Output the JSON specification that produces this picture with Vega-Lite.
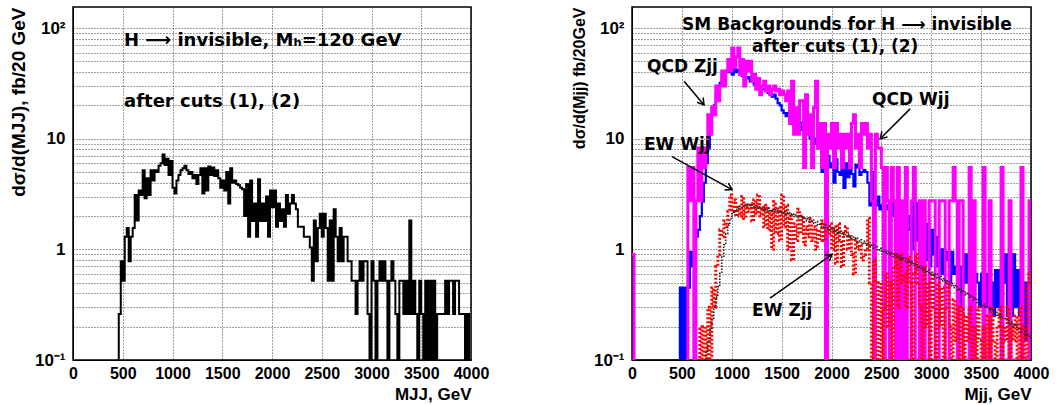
{
"$schema": "https://vega.github.io/schema/vega-lite/v6.json",
"padding": {"left": 8, "top": 6, "right": 5, "bottom": 2},
"background": "white",
"spacing": 161,
"bounds": "flush",
"config": {
  "font": "Liberation Sans",
  "view": {"stroke": "black", "strokeWidth": 1.5},
  "axis": {"labelFont": "Liberation Sans", "labelFontWeight": "bold", "labelColor": "black", "titleFont": "Liberation Sans", "titleFontWeight": "bold", "titleColor": "black", "domainColor": "black", "gridColor": "#000000", "gridDash": [1, 2], "gridOpacity": 0.75, "gridWidth": 1, "ticks": false, "labelOverlap": false}
},
"datasets": {
"h": [
{"m":0,"qcdZ":0.1,"qcdW":0.9},{"m":20,"qcdZ":0.1,"qcdW":0.1},{"m":40,"qcdZ":0.1},{"m":60,"qcdZ":0.1},{"m":80,"qcdZ":0.1},{"m":100,"qcdZ":0.1},{"m":120,"qcdZ":0.1},{"m":140,"qcdZ":0.1},{"m":160,"qcdZ":0.1},{"m":180,"qcdZ":0.1},{"m":200,"qcdZ":0.1},{"m":220,"qcdZ":0.1},{"m":240,"qcdZ":0.1},{"m":260,"qcdZ":0.1},{"m":280,"qcdZ":0.1},{"m":300,"qcdZ":0.1},{"m":320,"qcdZ":0.1},{"m":340,"qcdZ":0.1},{"m":360,"qcdZ":0.1},{"m":380,"qcdZ":0.1},{"m":400,"qcdZ":0.1},{"m":420,"qcdZ":0.1},
{"m":440,"sig":0.1,"qcdZ":0.1},{"m":460,"sig":0.26,"qcdZ":0.1},{"m":480,"sig":0.78,"qcdZ":0.45},
{"m":500,"sig":0.52,"qcdZ":0.1},{"m":520,"sig":1.3,"qcdZ":0.45},{"m":540,"sig":1.56,"qcdZ":0.1,"qcdW":0.1},{"m":560,"sig":0.78,"qcdZ":0.45,"qcdW":5.5},{"m":580,"sig":1.3,"qcdZ":0.95,"qcdW":2.75},
{"m":600,"sig":1.56,"qcdZ":0.7,"qcdW":5.5},{"m":620,"sig":3.1,"qcdZ":0.95,"qcdW":0.1},{"m":640,"sig":1.82,"qcdZ":1.3,"qcdW":2.75},{"m":660,"sig":3.4,"qcdZ":1.5,"qcdW":8.25,"ewZ":0.1},{"m":680,"sig":3.1,"qcdZ":2.0,"qcdW":2.75,"ewZ":0.2},
{"m":700,"sig":5.2,"qcdZ":2.7,"qcdW":8.25,"ewZ":0.1},{"m":720,"sig":2.9,"qcdZ":4.0,"qcdW":5.5,"ewZ":0.2,"ewW":0.1},{"m":740,"sig":4.4,"qcdZ":6.0,"qcdW":8.25,"ewZ":0.1,"ewW":0.12},{"m":760,"sig":3.1,"qcdZ":8.2,"qcdW":16.5,"ewZ":0.3,"ewW":0.15},{"m":780,"sig":5.2,"qcdZ":14,"qcdW":11,"ewZ":0.1,"ewW":0.19},
{"m":800,"sig":4.2,"qcdZ":19,"qcdW":19.3,"ewZ":0.45,"ewW":0.24},{"m":820,"sig":5.2,"qcdZ":20,"qcdW":16.5,"ewZ":0.3,"ewW":0.3},{"m":840,"sig":5.0,"qcdZ":25,"qcdW":30,"ewZ":0.7,"ewW":0.37},{"m":860,"sig":5.7,"qcdZ":30,"qcdW":22,"ewZ":0.9,"ewW":0.46},{"m":880,"sig":6.0,"qcdZ":32,"qcdW":30,"ewZ":1.5,"ewW":0.62},
{"m":900,"sig":7.2,"qcdZ":38,"qcdW":41,"ewZ":1.3,"ewW":0.85},{"m":920,"sig":5.8,"qcdZ":40,"qcdW":30,"ewZ":1.8,"ewW":1.1},{"m":940,"sig":6.6,"qcdZ":40,"qcdW":41,"ewZ":1.6,"ewW":1.38},{"m":960,"sig":4.7,"qcdZ":42,"qcdW":52,"ewZ":2.2,"ewW":1.65},{"m":980,"sig":6.3,"qcdZ":40,"qcdW":41,"ewZ":3.1,"ewW":1.9},
{"m":1000,"sig":3.6,"qcdZ":38,"qcdW":66,"ewZ":2.2,"ewW":2.1},{"m":1020,"sig":3.2,"qcdZ":45,"qcdW":44,"ewZ":2.8,"ewW":2.2},{"m":1040,"sig":4.2,"qcdZ":40,"qcdW":55,"ewZ":2.0,"ewW":2.3},{"m":1060,"sig":4.7,"qcdZ":42,"qcdW":66,"ewZ":2.4,"ewW":2.35},{"m":1080,"sig":5.2,"qcdZ":38,"qcdW":38,"ewZ":2.0,"ewW":2.45},
{"m":1100,"sig":5.4,"qcdZ":37,"qcdW":52,"ewZ":3.0,"ewW":2.4},{"m":1120,"sig":5.7,"qcdZ":40,"qcdW":30,"ewZ":1.9,"ewW":2.5},{"m":1140,"sig":5.2,"qcdZ":35,"qcdW":50,"ewZ":2.5,"ewW":2.42},{"m":1160,"sig":4.8,"qcdZ":36,"qcdW":41,"ewZ":2.2,"ewW":2.55},{"m":1180,"sig":5.0,"qcdZ":33,"qcdW":50,"ewZ":2.6,"ewW":2.4},
{"m":1200,"sig":4.4,"qcdZ":34,"qcdW":33,"ewZ":1.8,"ewW":2.5},{"m":1220,"sig":4.7,"qcdZ":31,"qcdW":38,"ewZ":2.8,"ewW":2.38},{"m":1240,"sig":3.9,"qcdZ":30,"qcdW":28,"ewZ":2.1,"ewW":2.45},{"m":1260,"sig":4.7,"qcdZ":31,"qcdW":35,"ewZ":3.1,"ewW":2.35},{"m":1280,"sig":5.4,"qcdZ":29,"qcdW":25,"ewZ":2.0,"ewW":2.42},
{"m":1300,"sig":3.2,"qcdZ":28,"qcdW":30,"ewZ":2.4,"ewW":2.3},{"m":1320,"sig":5.4,"qcdZ":28,"qcdW":33,"ewZ":1.6,"ewW":2.38},{"m":1340,"sig":3.4,"qcdZ":27,"qcdW":27,"ewZ":2.5,"ewW":2.25},{"m":1360,"sig":5.6,"qcdZ":26,"qcdW":30,"ewZ":1.5,"ewW":2.35},{"m":1380,"sig":4.7,"qcdZ":26,"qcdW":25,"ewZ":2.2,"ewW":2.22},
{"m":1400,"sig":5.5,"qcdZ":24,"qcdW":28,"ewZ":1.0,"ewW":2.3},{"m":1420,"sig":4.6,"qcdZ":25,"qcdW":30,"ewZ":2.7,"ewW":2.2},{"m":1440,"sig":5.2,"qcdZ":23,"qcdW":27,"ewZ":1.4,"ewW":2.28},{"m":1460,"sig":4.4,"qcdZ":21,"qcdW":28,"ewZ":2.4,"ewW":2.15},{"m":1480,"sig":3.6,"qcdZ":20,"qcdW":25,"ewZ":1.2,"ewW":2.22},
{"m":1500,"sig":4.2,"qcdZ":18,"qcdW":27,"ewZ":3.1,"ewW":2.12},{"m":1520,"sig":3.4,"qcdZ":17,"qcdW":25,"ewZ":1.6,"ewW":2.2},{"m":1540,"sig":5.0,"qcdZ":16,"qcdW":22,"ewZ":2.5,"ewW":2.08},{"m":1560,"sig":2.6,"qcdZ":17,"qcdW":27,"ewZ":1.0,"ewW":2.15},{"m":1580,"sig":5.4,"qcdZ":15,"qcdW":13.75,"ewZ":2.0,"ewW":2.02},
{"m":1600,"sig":4.0,"qcdZ":16,"qcdW":33,"ewZ":0.8,"ewW":2.1},{"m":1620,"sig":4.2,"qcdZ":14,"qcdW":11,"ewZ":1.7,"ewW":1.98},{"m":1640,"sig":3.9,"qcdZ":15,"qcdW":19,"ewZ":1.2,"ewW":2.05},{"m":1660,"sig":3.8,"qcdZ":13,"qcdW":11,"ewZ":2.3,"ewW":1.92},{"m":1680,"sig":3.6,"qcdZ":14,"qcdW":22,"ewZ":1.4,"ewW":2.0},
{"m":1700,"sig":3.5,"qcdZ":12,"qcdW":22,"ewZ":2.0,"ewW":1.88},{"m":1720,"sig":2.0,"qcdZ":13,"qcdW":5.5,"ewZ":1.1,"ewW":1.95},{"m":1740,"sig":3.9,"qcdZ":11,"qcdW":25,"ewZ":1.6,"ewW":1.82},{"m":1760,"sig":1.3,"qcdZ":12,"qcdW":11,"ewZ":1.3,"ewW":1.9},{"m":1780,"sig":4.2,"qcdZ":10,"qcdW":16.5,"ewZ":1.9,"ewW":1.76},
{"m":1800,"sig":1.8,"qcdZ":11,"qcdW":5.5,"ewZ":1.2,"ewW":1.84},{"m":1820,"sig":2.6,"qcdZ":9,"qcdW":19,"ewZ":1.6,"ewW":1.72},{"m":1840,"sig":1.3,"qcdZ":10,"qcdW":33,"ewZ":1.0,"ewW":1.78},{"m":1860,"sig":4.3,"qcdZ":8.2,"qcdW":8.25,"ewZ":1.5,"ewW":1.66},{"m":1880,"sig":1.8,"qcdZ":9,"qcdW":13.75,"ewZ":1.2,"ewW":1.72},
{"m":1900,"sig":2.6,"qcdZ":5,"qcdW":5.5,"ewZ":1.8,"ewW":1.6},{"m":1920,"sig":1.8,"qcdZ":8,"qcdW":13.75,"ewZ":1.2,"ewW":1.66},{"m":1940,"sig":3.0,"qcdZ":4.2,"qcdW":0.1,"ewZ":1.5,"ewW":1.55},{"m":1960,"sig":1.3,"qcdZ":7,"qcdW":11,"ewZ":1.4,"ewW":1.6},{"m":1980,"sig":3.4,"qcdZ":5.5,"qcdW":8.25,"ewZ":1.7,"ewW":1.5},
{"m":2000,"sig":2.4,"qcdZ":6,"qcdW":13.75,"ewZ":1.0,"ewW":1.56},{"m":2020,"sig":3.4,"qcdZ":4,"qcdW":5.5,"ewZ":1.6,"ewW":1.45},{"m":2040,"sig":1.6,"qcdZ":6.5,"qcdW":13.75,"ewZ":0.75,"ewW":1.5},{"m":2060,"sig":2.6,"qcdZ":5,"qcdW":8.25,"ewZ":1.7,"ewW":1.4},{"m":2080,"sig":1.8,"qcdZ":4.7,"qcdW":11,"ewZ":1.2,"ewW":1.46},
{"m":2100,"sig":2.3,"qcdZ":5.8,"qcdW":5.5,"ewZ":0.7,"ewW":1.36},{"m":2120,"sig":1.6,"qcdZ":3.6,"qcdW":11,"ewZ":1.4,"ewW":1.42},{"m":2140,"sig":3.1,"qcdZ":6,"qcdW":8.25,"ewZ":1.6,"ewW":1.32},{"m":2160,"sig":2.1,"qcdZ":4.5,"qcdW":11,"ewZ":1.0,"ewW":1.36},{"m":2180,"sig":2.6,"qcdZ":5.5,"qcdW":5.5,"ewZ":1.3,"ewW":1.26},
{"m":2200,"sig":3.1,"qcdZ":4.8,"qcdW":13.75,"ewZ":0.9,"ewW":1.32},{"m":2220,"sig":2.6,"qcdZ":3.7,"qcdW":16.5,"ewZ":0.6,"ewW":1.22},{"m":2240,"sig":2.3,"qcdZ":5.8,"qcdW":8.25,"ewZ":1.2,"ewW":1.27},{"m":2260,"sig":1.6,"qcdZ":5.5,"qcdW":11,"ewZ":1.0,"ewW":1.17},{"m":2280,"sig":1.6,"qcdZ":4.7,"qcdW":5.5,"ewZ":1.1,"ewW":1.22},
{"m":2300,"sig":1.6,"qcdZ":5.0,"qcdW":13.75,"ewZ":0.8,"ewW":1.13},{"m":2320,"sig":1.3,"qcdZ":5.2,"qcdW":11,"ewZ":0.9,"ewW":1.18},{"m":2340,"sig":1.3,"qcdZ":5.0,"qcdW":13.75,"ewZ":1.0,"ewW":1.09},{"m":2360,"sig":1.3,"qcdZ":4.0,"qcdW":8.25,"ewZ":1.9,"ewW":1.13},{"m":2380,"sig":1.04,"qcdZ":2.5,"qcdW":11,"ewZ":0.5,"ewW":1.05},
{"m":2400,"sig":0.52,"qcdZ":5.0,"qcdW":2.75,"ewZ":0.1,"ewW":1.1},{"m":2420,"sig":1.82,"qcdZ":2.7,"qcdW":0.1,"ewZ":0.8,"ewW":1.02},{"m":2440,"sig":0.78,"qcdZ":2.5,"qcdW":11,"ewZ":0.5,"ewW":1.06},{"m":2460,"sig":1.56,"qcdZ":3.0,"qcdW":8.25,"ewZ":0.1,"ewW":0.98},{"m":2480,"sig":2.1,"qcdZ":2.3,"qcdW":8.25,"ewZ":0.5,"ewW":1.02},
{"m":2500,"sig":1.3,"qcdZ":2.5,"qcdW":5.5,"ewZ":0.1,"ewW":0.95},{"m":2520,"sig":2.1,"qcdZ":3.0,"qcdW":0.1,"ewZ":0.3,"ewW":0.99},{"m":2540,"sig":1.56,"qcdZ":2.5,"qcdW":5.5,"ewZ":0.6,"ewW":0.92},{"m":2560,"sig":0.52,"qcdZ":2.3,"qcdW":2.75,"ewZ":0.2,"ewW":0.96},{"m":2580,"sig":1.82,"qcdZ":2.1,"qcdW":0.1,"ewZ":0.5,"ewW":0.89},
{"m":2600,"sig":0.52,"qcdZ":2.7,"qcdW":5.5,"ewZ":0.1,"ewW":0.93},{"m":2620,"sig":2.3,"qcdZ":2.0,"qcdW":2.75,"ewZ":0.7,"ewW":0.86},{"m":2640,"sig":1.3,"qcdZ":2.1,"qcdW":0.1,"ewZ":0.9,"ewW":0.9},{"m":2660,"sig":0.78,"qcdZ":1.5,"qcdW":5.5,"ewZ":0.3,"ewW":0.83},{"m":2680,"sig":1.56,"qcdZ":2.0,"qcdW":0.1,"ewZ":0.9,"ewW":0.87},
{"m":2700,"sig":0.78,"qcdZ":1.3,"qcdW":2.75,"ewZ":0.5,"ewW":0.8},{"m":2720,"sig":1.3,"qcdZ":1.7,"qcdW":0.1,"ewZ":0.6,"ewW":0.84},{"m":2740,"sig":1.3,"qcdZ":1.0,"qcdW":5.5,"ewZ":0.3,"ewW":0.77},{"m":2760,"sig":0.78,"qcdZ":1.5,"qcdW":0.1,"ewZ":0.85,"ewW":0.8},{"m":2780,"sig":0.78,"qcdZ":2.0,"qcdW":0.1,"ewZ":0.5,"ewW":0.74},
{"m":2800,"sig":0.52,"qcdZ":1.0,"qcdW":2.75,"ewZ":0.1,"ewW":0.77},{"m":2820,"sig":0.52,"qcdZ":3.6,"qcdW":5.5,"ewZ":0.6,"ewW":0.71},{"m":2840,"sig":0.26,"qcdZ":1.2,"qcdW":0.1,"ewZ":0.9,"ewW":0.74},{"m":2860,"sig":0.52,"qcdZ":2.6,"qcdW":0.1,"ewZ":0.5,"ewW":0.68},{"m":2880,"sig":0.78,"qcdZ":1.0,"qcdW":2.75,"ewZ":0.3,"ewW":0.71},
{"m":2900,"sig":0.52,"qcdZ":1.5,"qcdW":0.1,"ewZ":0.1,"ewW":0.65},{"m":2920,"sig":0.78,"qcdZ":1.2,"qcdW":2.75,"ewZ":0.7,"ewW":0.68},{"m":2940,"sig":0.78,"qcdZ":0.8,"qcdW":0.1,"ewZ":0.2,"ewW":0.62},{"m":2960,"sig":0.26,"qcdZ":1.7,"qcdW":0.1,"ewZ":0.5,"ewW":0.65},{"m":2980,"sig":0.1,"qcdZ":0.7,"qcdW":2.75,"ewZ":0.1,"ewW":0.6},
{"m":3000,"sig":0.78,"qcdZ":1.5,"qcdW":2.75,"ewZ":0.6,"ewW":0.62},{"m":3020,"sig":0.52,"qcdZ":0.9,"qcdW":2.75,"ewZ":0.3,"ewW":0.57},{"m":3040,"sig":0.1,"qcdZ":1.3,"qcdW":0.1,"ewZ":0.1,"ewW":0.6},{"m":3060,"sig":0.52,"qcdZ":0.7,"qcdW":0.1,"ewZ":0.5,"ewW":0.55},{"m":3080,"sig":0.78,"qcdZ":1.0,"qcdW":2.75,"ewZ":0.2,"ewW":0.57},
{"m":3100,"sig":0.52,"qcdZ":0.6,"qcdW":2.75,"ewZ":0.45,"ewW":0.52},{"m":3120,"sig":0.78,"qcdZ":1.0,"qcdW":2.75,"ewZ":0.1,"ewW":0.54},{"m":3140,"sig":0.52,"qcdZ":0.8,"qcdW":0.1,"ewZ":0.3,"ewW":0.5},{"m":3160,"sig":0.1,"qcdZ":0.95,"qcdW":0.1,"ewZ":0.5,"ewW":0.52},{"m":3180,"sig":0.52,"qcdZ":0.5,"qcdW":2.75,"ewZ":0.2,"ewW":0.47},
{"m":3200,"sig":0.78,"qcdZ":0.95,"qcdW":2.75,"ewZ":0.1,"ewW":0.49},{"m":3220,"sig":0.52,"qcdZ":0.6,"qcdW":5.5,"ewZ":0.35,"ewW":0.45},{"m":3240,"sig":0.26,"qcdZ":0.7,"qcdW":2.75,"ewZ":0.15,"ewW":0.47},{"m":3260,"sig":0.1,"qcdZ":0.5,"qcdW":0.1,"ewZ":0.3,"ewW":0.43},{"m":3280,"sig":0.52,"qcdZ":0.7,"qcdW":2.75,"ewZ":0.1,"ewW":0.44},
{"m":3300,"sig":0.52,"qcdZ":0.3,"qcdW":2.75,"ewZ":0.3,"ewW":0.41},{"m":3320,"sig":0.26,"qcdZ":0.9,"qcdW":0.1,"ewZ":0.1,"ewW":0.42},{"m":3340,"sig":0.52,"qcdZ":0.5,"qcdW":0.1,"ewZ":0.25,"ewW":0.39},{"m":3360,"sig":0.26,"qcdZ":0.9,"qcdW":0.1,"ewZ":0.15,"ewW":0.4},{"m":3380,"sig":1.82,"qcdZ":0.6,"qcdW":5.5,"ewZ":0.3,"ewW":0.37},
{"m":3400,"sig":0.26,"qcdZ":0.7,"qcdW":0.1,"ewZ":0.1,"ewW":0.38},{"m":3420,"sig":0.52,"qcdZ":0.3,"qcdW":2.75,"ewZ":0.2,"ewW":0.35},{"m":3440,"sig":0.26,"qcdZ":0.6,"qcdW":0.1,"ewZ":0.1,"ewW":0.36},{"m":3460,"sig":0.1,"qcdZ":0.5,"qcdW":0.1,"ewZ":0.3,"ewW":0.33},{"m":3480,"sig":0.52,"qcdZ":0.3,"qcdW":0.1,"ewZ":0.15,"ewW":0.34},
{"m":3500,"sig":0.26,"qcdZ":0.6,"qcdW":0.1,"ewZ":0.1,"ewW":0.31},{"m":3520,"sig":0.1,"qcdZ":0.35,"qcdW":5.5,"ewZ":0.2,"ewW":0.32},{"m":3540,"sig":0.52,"qcdZ":0.6,"qcdW":0.1,"ewZ":0.1,"ewW":0.3},{"m":3560,"sig":0.1,"qcdZ":0.3,"qcdW":0.1,"ewZ":0.25,"ewW":0.3},{"m":3580,"sig":0.52,"qcdZ":0.6,"qcdW":2.75,"ewZ":0.1,"ewW":0.28},
{"m":3600,"sig":0.1,"qcdZ":0.5,"qcdW":0.1,"ewZ":0.3,"ewW":0.29},{"m":3620,"sig":0.52,"qcdZ":0.25,"qcdW":0.1,"ewZ":0.15,"ewW":0.27},{"m":3640,"sig":0.1,"qcdZ":0.65,"qcdW":0.1,"ewZ":0.1,"ewW":0.27},{"m":3660,"sig":0.26,"qcdZ":0.3,"qcdW":0.1,"ewZ":0.2,"ewW":0.25},{"m":3680,"sig":0.26,"qcdZ":0.65,"qcdW":0.1,"ewZ":0.3,"ewW":0.26},
{"m":3700,"sig":0.26,"qcdZ":0.25,"qcdW":5.5,"ewZ":0.1,"ewW":0.24},{"m":3720,"sig":0.26,"qcdZ":0.5,"qcdW":0.1,"ewZ":0.2,"ewW":0.24},{"m":3740,"sig":0.52,"qcdZ":0.9,"qcdW":0.1,"ewZ":0.15,"ewW":0.23},{"m":3760,"sig":0.26,"qcdZ":0.25,"qcdW":0.1,"ewZ":0.3,"ewW":0.23},{"m":3780,"sig":0.52,"qcdZ":0.65,"qcdW":2.75,"ewZ":0.1,"ewW":0.21},
{"m":3800,"sig":0.52,"qcdZ":0.25,"qcdW":0.1,"ewZ":0.2,"ewW":0.22},{"m":3820,"sig":0.26,"qcdZ":0.9,"qcdW":0.1,"ewZ":0.15,"ewW":0.2},{"m":3840,"sig":0.52,"qcdZ":0.3,"qcdW":0.1,"ewZ":0.25,"ewW":0.21},{"m":3860,"sig":0.52,"qcdZ":0.65,"qcdW":0.1,"ewZ":0.1,"ewW":0.19},{"m":3880,"sig":0.26,"qcdZ":0.25,"qcdW":0.1,"ewZ":0.3,"ewW":0.19},
{"m":3900,"sig":0.26,"qcdZ":0.45,"qcdW":5.5,"ewZ":0.1,"ewW":0.18},{"m":3920,"sig":0.26,"qcdZ":0.15,"qcdW":0.1,"ewZ":0.2,"ewW":0.18},{"m":3940,"sig":0.1,"qcdZ":0.5,"qcdW":0.1,"ewZ":0.1,"ewW":0.17},{"m":3960,"sig":0.26,"qcdZ":0.15,"qcdW":0.1,"ewZ":0.5,"ewW":0.17},{"m":3980,"sig":0.1,"qcdZ":0.7,"qcdW":2.75,"ewZ":0.6,"ewW":0.16},
{"m":4000,"sig":0.1,"qcdZ":0.7,"qcdW":2.75,"ewZ":0.6,"ewW":0.16}
],
"notesL": [
{"t":"H ⟶ invisible, Mₕ=120 GeV","x":513,"y":76},
{"t":"after cuts (1), (2)","x":513,"y":21.5}
],
"notesR": [
{"t":"SM Backgrounds for H ⟶ invisible","x":502,"y":106},
{"t":"after cuts (1), (2)","x":1204,"y":67},
{"t":"QCD Zjj","x":150,"y":44.6},
{"t":"QCD Wjj","x":2407,"y":22.4},
{"t":"EW Wjj","x":120,"y":8.8},
{"t":"EW Zjj","x":1204,"y":0.276}
],
"arrows": [
{"k":"qz","x1":522,"y1":33,"x2":722,"y2":20.2},
{"k":"qw","x1":2788,"y1":18.6,"x2":2488,"y2":10},
{"k":"ew","x1":401,"y1":6.9,"x2":1003,"y2":3.47},
{"k":"ez","x1":1384,"y1":0.362,"x2":2006,"y2":0.9}
]
},
"hconcat": [
{
 "width": 398, "height": 353,
 "layer": [
  {"data": {"name": "h"},
   "mark": {"type": "line", "interpolate": "step-after", "color": "black", "strokeWidth": 2, "clip": true},
   "encoding": {
    "x": {"field": "m", "type": "quantitative", "scale": {"domain": [0, 4000], "nice": false},
      "axis": {"values": [0,500,1000,1500,2000,2500,3000,3500,4000], "format": "d", "labelFontSize": 16, "labelPadding": 5, "labelFlush": false, "title": "MJJ, GeV", "titleAnchor": "end", "titleFontSize": 17, "titlePadding": 5, "grid": true}},
    "y": {"field": "sig", "type": "quantitative", "scale": {"type": "log", "domain": [0.1, 155], "nice": false},
      "axis": {"values": [0.1,0.2,0.3,0.4,0.5,0.6,0.7,0.8,0.9,1,2,3,4,5,6,7,8,9,10,20,30,40,50,60,70,80,90,100], "labelExpr": "datum.value == 100 ? '10²' : datum.value == 10 ? '10' : datum.value == 1 ? '1' : datum.value == 0.1 ? '10⁻¹' : ''", "labelFontSize": 17, "labelPadding": 8, "minExtent": 40, "maxExtent": 40, "title": "dσ/d(MJJ), fb/20 GeV", "titleAnchor": "end", "titleFontSize": 19, "titlePadding": 5, "grid": true}}
   }},
  {"data": {"name": "notesL"},
   "mark": {"type": "text", "align": "left", "baseline": "middle", "font": "DejaVu Sans", "fontSize": 18, "fontWeight": "bold", "color": "black"},
   "encoding": {"x": {"field": "x", "type": "quantitative"}, "y": {"field": "y", "type": "quantitative"}, "text": {"field": "t"}}}
 ]
},
{
 "width": 399, "height": 353,
 "layer": [
  {"data": {"name": "h"},
   "mark": {"type": "line", "interpolate": "step-after", "color": "#0000ff", "strokeWidth": 2.2, "clip": true},
   "encoding": {
    "x": {"field": "m", "type": "quantitative", "scale": {"domain": [0, 4000], "nice": false},
      "axis": {"values": [0,500,1000,1500,2000,2500,3000,3500,4000], "format": "d", "labelFontSize": 16, "labelPadding": 5, "labelFlush": false, "title": "Mjj, GeV", "titleAnchor": "end", "titleFontSize": 17, "titlePadding": 5, "grid": true}},
    "y": {"field": "qcdZ", "type": "quantitative", "scale": {"type": "log", "domain": [0.1, 155], "nice": false},
      "axis": {"values": [0.1,0.2,0.3,0.4,0.5,0.6,0.7,0.8,0.9,1,2,3,4,5,6,7,8,9,10,20,30,40,50,60,70,80,90,100], "labelExpr": "datum.value == 100 ? '10²' : datum.value == 10 ? '10' : datum.value == 1 ? '1' : datum.value == 0.1 ? '10⁻¹' : ''", "labelFontSize": 17, "labelPadding": 8, "minExtent": 40, "maxExtent": 40, "title": "dσ/d(Mjj) fb/20GeV", "titleAnchor": "end", "titleFontSize": 16, "titlePadding": 5, "grid": true}}
   }},
  {"data": {"name": "h"},
   "mark": {"type": "line", "interpolate": "step-after", "color": "#ff00ff", "strokeWidth": 3, "clip": true},
   "encoding": {"x": {"field": "m", "type": "quantitative"}, "y": {"field": "qcdW", "type": "quantitative"}}},
  {"data": {"name": "h"},
   "mark": {"type": "line", "interpolate": "step-after", "color": "#ff0000", "strokeWidth": 3, "strokeDash": [2, 2], "clip": true},
   "encoding": {"x": {"field": "m", "type": "quantitative"}, "y": {"field": "ewZ", "type": "quantitative"}}},
  {"data": {"name": "h"},
   "mark": {"type": "line", "interpolate": "step-after", "color": "#222222", "strokeWidth": 1.6, "strokeDash": [1.5, 1.5], "clip": true},
   "encoding": {"x": {"field": "m", "type": "quantitative"}, "y": {"field": "ewW", "type": "quantitative"}}},
  {"data": {"name": "notesR"},
   "mark": {"type": "text", "align": "left", "baseline": "middle", "font": "DejaVu Sans", "fontSize": 17, "fontWeight": "bold", "color": "black"},
   "encoding": {"x": {"field": "x", "type": "quantitative"}, "y": {"field": "y", "type": "quantitative"}, "text": {"field": "t"}}},
  {"data": {"name": "arrows"},
   "mark": {"type": "rule", "color": "black", "strokeWidth": 1.5},
   "encoding": {"x": {"field": "x1", "type": "quantitative"}, "y": {"field": "y1", "type": "quantitative"}, "x2": {"field": "x2"}, "y2": {"field": "y2"}}},
  {"data": {"name": "arrows"}, "transform": [{"filter": "datum.k == 'qz'"}],
   "mark": {"type": "point", "shape": "M -0.55 0.9 L 0 0 L 0.55 0.9", "size": 200, "angle": 142, "filled": false, "color": "black", "strokeWidth": 1.5, "opacity": 1},
   "encoding": {"x": {"field": "x2", "type": "quantitative"}, "y": {"field": "y2", "type": "quantitative"}}},
  {"data": {"name": "arrows"}, "transform": [{"filter": "datum.k == 'qw'"}],
   "mark": {"type": "point", "shape": "M -0.55 0.9 L 0 0 L 0.55 0.9", "size": 200, "angle": 225, "filled": false, "color": "black", "strokeWidth": 1.5, "opacity": 1},
   "encoding": {"x": {"field": "x2", "type": "quantitative"}, "y": {"field": "y2", "type": "quantitative"}}},
  {"data": {"name": "arrows"}, "transform": [{"filter": "datum.k == 'ew'"}],
   "mark": {"type": "point", "shape": "M -0.55 0.9 L 0 0 L 0.55 0.9", "size": 200, "angle": 119, "filled": false, "color": "black", "strokeWidth": 1.5, "opacity": 1},
   "encoding": {"x": {"field": "x2", "type": "quantitative"}, "y": {"field": "y2", "type": "quantitative"}}},
  {"data": {"name": "arrows"}, "transform": [{"filter": "datum.k == 'ez'"}],
   "mark": {"type": "point", "shape": "M -0.55 0.9 L 0 0 L 0.55 0.9", "size": 200, "angle": 55, "filled": false, "color": "black", "strokeWidth": 1.5, "opacity": 1},
   "encoding": {"x": {"field": "x2", "type": "quantitative"}, "y": {"field": "y2", "type": "quantitative"}}}
 ]
}
]
}
